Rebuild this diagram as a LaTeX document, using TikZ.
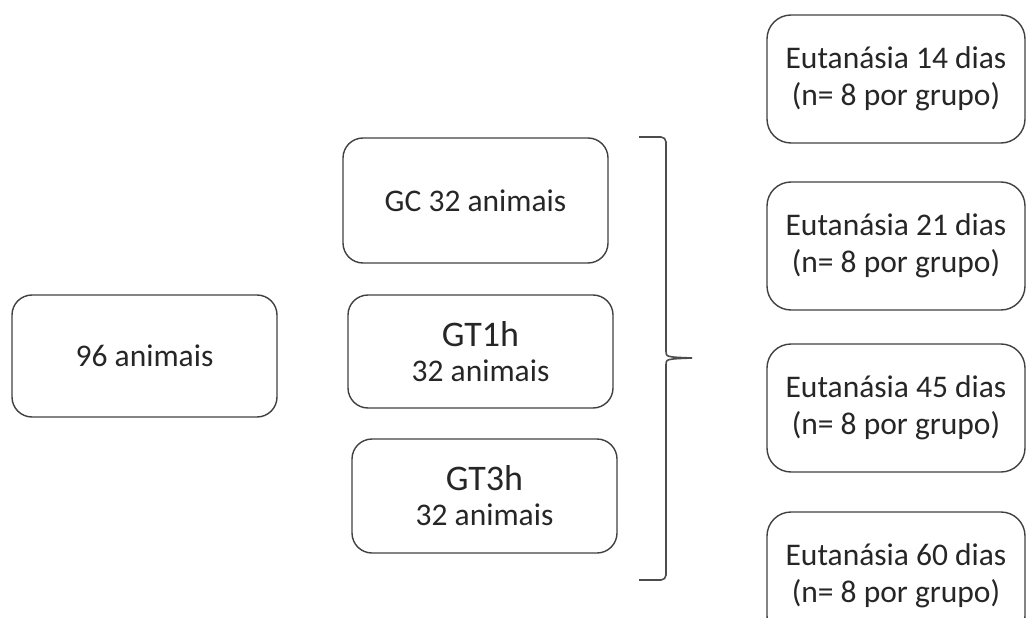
\documentclass[tikz,border=0pt]{standalone}
\usepackage{fontspec}
\setmainfont{Carlito}
\usetikzlibrary{positioning}

\begin{document}
\begin{tikzpicture}[
  x=1pt, y=-1pt,
  font=\fontsize{31.5}{37}\selectfont,
  box/.style={draw=black!75, line width=1.4pt, rounded corners=20pt, align=center, text=black!85, minimum width=265pt, inner sep=0pt},
  big/.style={font=\fontsize{36}{38}\selectfont},
  brace/.style={draw=black!70, line width=1.6pt}
]
\useasboundingbox (0,0) rectangle (1026,618);
\clip (0,0) rectangle (1026,618);

\node[box, minimum height=122pt] (p1) at (144.5,356) {96 animais};

\node[box, minimum height=125pt] (p2) at (475.5,200.5) {GC 32 animais};
\node[box, minimum height=113pt] (p3) at (480.5,351.5) {{\fontsize{36}{38}\selectfont GT1h}\\[-2pt]32 animais};
\node[box, minimum height=114pt] (p4) at (484.5,496) {{\fontsize{36}{38}\selectfont GT3h}\\[-2pt]32 animais};

\foreach \d/\y in {14/79, 21/246, 45/408, 60/576}
  \node[box, minimum width=258pt, minimum height=128pt, rounded corners=24pt] (e\d) at (896,\y)
  {Eutanásia \d\ dias\\(n= 8 por grupo)};

% brace
\coordinate (btop) at (639,137);
\coordinate (bbot) at (639,580);
\coordinate (btip) at (692,358);
\draw[brace, rounded corners=5pt] (btop) -- (666,137) -- (666,352);
\draw[brace] (666,351) .. controls (666,357) .. (btip);
\draw[brace] (666,365) .. controls (666,359) .. (btip);
\draw[brace, rounded corners=5pt] (666,364) -- (666,580) -- (bbot);

\end{tikzpicture}
\end{document}
